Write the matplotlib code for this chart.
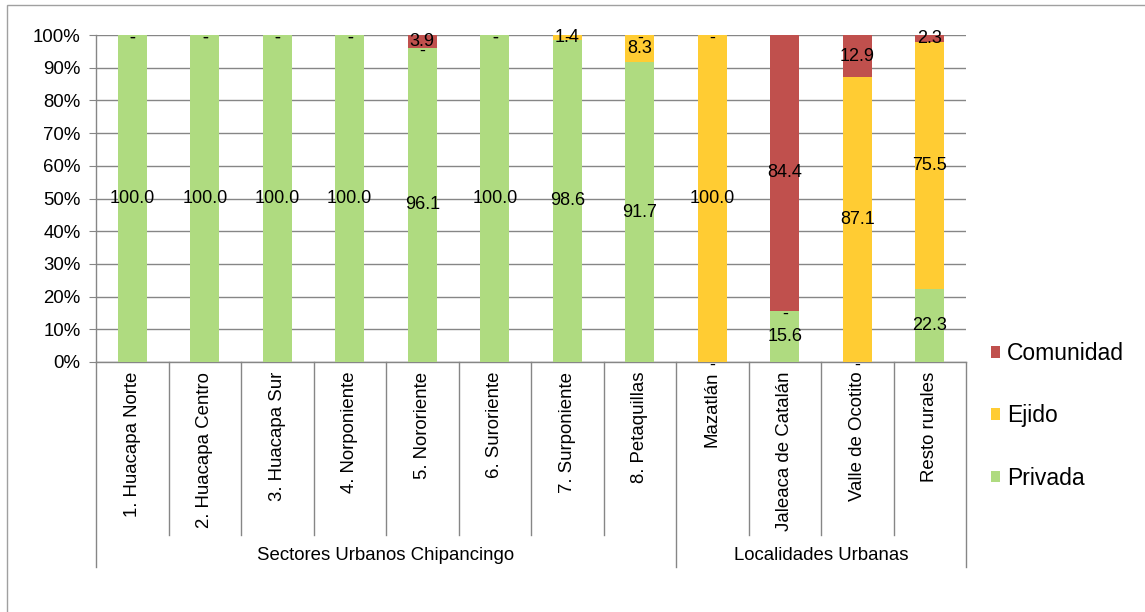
import matplotlib
matplotlib.use("Agg")
import matplotlib.pyplot as plt
from matplotlib.patches import Patch, Rectangle
import numpy as np

plt.rcParams["font.family"] = ["Liberation Sans", "DejaVu Sans"]

categories = [
    "1. Huacapa Norte", "2. Huacapa Centro", "3. Huacapa Sur", "4. Norponiente",
    "5. Nororiente", "6. Suroriente", "7. Surponiente", "8. Petaquillas",
    "Mazatlán", "Jaleaca de Catalán", "Valle de Ocotito", "Resto rurales",
]
groups = ["Sectores Urbanos Chipancingo", "Localidades Urbanas"]
group_sizes = [8, 4]

privada = [100.0, 100.0, 100.0, 100.0, 96.1, 100.0, 98.6, 91.7, 0.0, 15.6, 0.0, 22.3]
ejido = [0.0, 0.0, 0.0, 0.0, 0.0, 0.0, 1.4, 8.3, 100.0, 0.0, 87.1, 75.5]
comunidad = [0.0, 0.0, 0.0, 0.0, 3.9, 0.0, 0.0, 0.0, 0.0, 84.4, 12.9, 2.3]

series = [("Privada", privada, "#AFDB80"),
          ("Ejido", ejido, "#FFCC33"),
          ("Comunidad", comunidad, "#C0504D")]

TXT = 13.4
fig = plt.figure(figsize=(11.45, 6.12), dpi=100)
W, H = 1145, 612
ax = fig.add_axes([96 / W, 1 - 362 / H, (966 - 96) / W, (362 - 35) / H])

x = np.arange(len(categories))
bottom = np.zeros(len(categories))
handles = {}
for name, vals, color in series:
    vals = np.array(vals)
    ax.bar(x, vals, width=0.4, bottom=bottom, color=color, zorder=3,
           edgecolor="none")
    handles[name] = Patch(facecolor=color, edgecolor="none")
    for xi, b, v in zip(x, bottom, vals):
        if v == 0:
            # empty segments get a dash, sitting just under the segment edge
            ax.annotate("-", (xi, b), xytext=(0, -2.5), textcoords="offset points",
                        ha="center", va="center", fontsize=13, zorder=5,
                        annotation_clip=False)
        else:
            ax.text(xi, b + v / 2, f"{v:.1f}", ha="center", va="center",
                    fontsize=13, color="black", zorder=5)
    bottom = bottom + vals

ax.set_xlim(-0.5, len(categories) - 0.5)
ax.set_ylim(0, 100)
ax.set_yticks(np.arange(0, 101, 10))
ax.set_yticklabels([f"{v}%" for v in range(0, 101, 10)], fontsize=TXT)
ax.yaxis.grid(True, color="#868686", linewidth=1.0, zorder=0)
ax.tick_params(axis="y", length=5, color="#868686", pad=6)
ax.tick_params(axis="x", length=0)
for s in ["top", "right"]:
    ax.spines[s].set_visible(False)
for s in ["left", "bottom"]:
    ax.spines[s].set_color("#868686")
    ax.spines[s].set_linewidth(1.0)
ax.set_xticks([])

# category labels, rotated, below the axis
trans = ax.get_xaxis_transform()
for xi, name in zip(x, categories):
    ax.text(xi, -0.03, name, rotation=90, ha="center", va="top",
            fontsize=TXT, transform=trans, clip_on=False)

# separators between categories and between groups
inner_depth = -(535 - 362) / 327
outer_depth = -(567 - 362) / 327
group_edges = np.concatenate([[0], np.cumsum(group_sizes)]) - 0.5
for b in np.arange(-0.5, len(categories), 1.0):
    depth = outer_depth if np.any(np.isclose(group_edges, b)) else inner_depth
    ax.plot([b, b], [0, depth], color="#868686", linewidth=1.0,
            transform=trans, clip_on=False)

# group labels
for g, lo, hi in zip(groups, group_edges[:-1], group_edges[1:]):
    ax.text((lo + hi) / 2, -(555 - 362) / 327, g, ha="center", va="center",
            fontsize=TXT, transform=trans, clip_on=False)

# legend
order = ["Comunidad", "Ejido", "Privada"]
fig.legend([handles[n] for n in order], order, loc="upper left",
           bbox_to_anchor=(991 / W, 1 - 342 / H), frameon=False,
           fontsize=16.5, handlelength=0.4, handleheight=0.4,
           handletextpad=0.3, labelspacing=1.72, borderpad=0,
           borderaxespad=0)

# outer chart frame
fig.patches.append(Rectangle((7 / W, -0.1), 2, 1 - 5 / H + 0.1,
                             transform=fig.transFigure, fill=False,
                             edgecolor="#a0a0a0", linewidth=1.0))

fig.savefig("out.png", dpi=100)
